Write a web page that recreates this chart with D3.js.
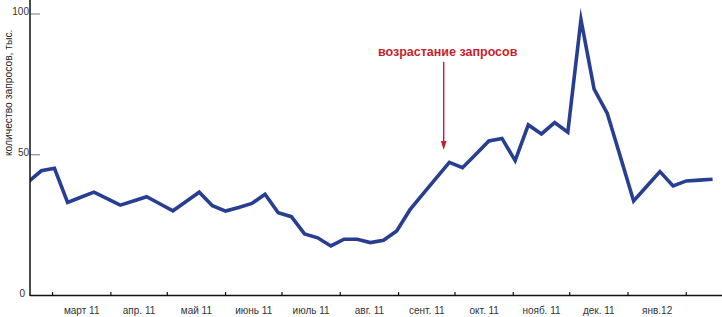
<!DOCTYPE html>
<html>
<head>
<meta charset="utf-8">
<script src="https://cdn.jsdelivr.net/npm/d3@7"></script>
<style>
  html, body { margin: 0; padding: 0; background: #fff; }
  svg { display: block; }
</style>
</head>
<body>
<svg id="chart" width="722" height="317"></svg>
<script>
// ---- data ----
const firstWeek = "2011-02-16";          // weekly observations start here
const requests = [
  40.3, 44.3, 45.2, 33.1, 34.9, 36.7, 34.4, 32.1, 33.6, 35.1,
  32.6, 30.1, 33.4, 36.7, 31.9, 30.0, 31.3, 32.7, 36.0, 29.4,
  28.0, 21.9, 20.5, 17.6, 20.0, 20.0, 18.8, 19.6, 22.9, 30.4,
  36.1, 41.7, 47.3, 45.4, 50.1, 54.9, 55.8, 47.9, 60.6, 57.4,
  61.4, 58.0, 98.0, 73.3, 64.7, 49.2, 33.6, 38.8, 44.0, 38.9,
  40.7, 41.0, 41.3
];
const monthStarts = ["2011-03-01","2011-04-01","2011-05-01","2011-06-01","2011-07-01",
  "2011-08-01","2011-09-01","2011-10-01","2011-11-01","2011-12-01","2012-01-01","2012-02-01"];
const monthLabels = ["март 11","апр. 11","май 11","июнь 11","июль 11","авг. 11",
  "сент. 11","окт. 11","нояб. 11","дек. 11","янв.12"];
const yTicks = [0, 50, 100];
const yTitle = "количество запросов, тыс.";
const annotationText = "возрастание запросов";
const annotationDate = "2011-09-25";
const annotationFrom = 83;   // value where the arrow starts
const annotationTo = 51.7;   // value where the arrow points
const xDomain = ["2011-02-17", "2012-02-20"];

(function () {
  const parse = d3.utcParse("%Y-%m-%d");
  const start = parse(firstWeek);
  const data = requests.map((v, i) => ({ date: d3.utcDay.offset(start, 7 * i), value: v }));

  const svg = d3.select("#chart");
  const pl = 30, pr = 722, pb = 295.5, pt = 14;
  const x = d3.scaleUtc().domain(xDomain.map(parse)).range([pl, pr]);
  const y = d3.scaleLinear().domain([0, 100]).range([pb, pt]);

  const font = "'Liberation Sans', Arial, sans-serif";

  svg.append("defs").append("clipPath").attr("id", "plot")
    .append("rect").attr("x", pl).attr("y", 0).attr("width", pr - pl).attr("height", pb);

  // y ticks (inside, grey)
  svg.append("g").selectAll("line").data(yTicks.filter(d => d > 0)).join("line")
    .attr("x1", pl).attr("x2", pl + 10)
    .attr("y1", d => y(d)).attr("y2", d => y(d))
    .attr("stroke", "#777").attr("stroke-width", 1);
  svg.append("g").selectAll("text").data(yTicks).join("text")
    .attr("x", d => d === 0 ? pl - 5 : pl - 1)
    .attr("y", d => y(d)).attr("dy", "0.1em")
    .attr("text-anchor", "end")
    .attr("font-family", font).attr("font-size", 10).attr("fill", "#333")
    .text(d => d);

  // line
  const line = d3.line().x(d => x(d.date)).y(d => y(d.value));
  svg.append("path").datum(data)
    .attr("clip-path", "url(#plot)")
    .attr("d", line)
    .attr("fill", "none").attr("stroke", "#283f91")
    .attr("stroke-width", 3.6).attr("stroke-linejoin", "miter").attr("stroke-miterlimit", 10);

  // axes lines
  svg.append("line").attr("x1", pl).attr("x2", pl).attr("y1", 0).attr("y2", pb + 0.5)
    .attr("stroke", "#111").attr("stroke-width", 1.5);
  svg.append("line").attr("x1", pl).attr("x2", pr).attr("y1", pb).attr("y2", pb)
    .attr("stroke", "#111").attr("stroke-width", 1.5);

  // x ticks at month starts
  const ms = monthStarts.map(parse);
  svg.append("g").selectAll("line").data(ms).join("line")
    .attr("x1", d => x(d)).attr("x2", d => x(d))
    .attr("y1", pb).attr("y2", pb - 3.5)
    .attr("stroke", "#111").attr("stroke-width", 1.2);

  // month labels centered between ticks
  svg.append("g").selectAll("text").data(monthLabels).join("text")
    .attr("x", (d, i) => (x(ms[i]) + x(ms[i + 1])) / 2)
    .attr("y", 314)
    .attr("text-anchor", "middle")
    .attr("font-family", font).attr("font-size", 10).attr("fill", "#333")
    .text(d => d);

  // y title
  svg.append("text")
    .attr("transform", `translate(12, ${y(72)}) rotate(-90)`)
    .attr("text-anchor", "middle")
    .attr("font-family", font).attr("font-size", 10.3).attr("fill", "#222")
    .text(yTitle);

  // annotation
  const ad = parse(annotationDate);
  svg.append("text")
    .attr("x", x(ad) + 4).attr("y", y(annotationFrom) - 6)
    .attr("text-anchor", "middle")
    .attr("font-family", font).attr("font-size", 12.5).attr("font-weight", "bold")
    .attr("fill", "#c81e2c")
    .text(annotationText);
  svg.append("line")
    .attr("x1", x(ad)).attr("x2", x(ad))
    .attr("y1", y(annotationFrom)).attr("y2", y(annotationTo) - 6)
    .attr("stroke", "#c81e2c").attr("stroke-width", 1.4);
  svg.append("path")
    .attr("d", `M${x(ad) - 2.8},${y(annotationTo) - 9} L${x(ad) + 2.8},${y(annotationTo) - 9} L${x(ad)},${y(annotationTo)} Z`)
    .attr("fill", "#c81e2c");
})();
</script>
</body>
</html>
